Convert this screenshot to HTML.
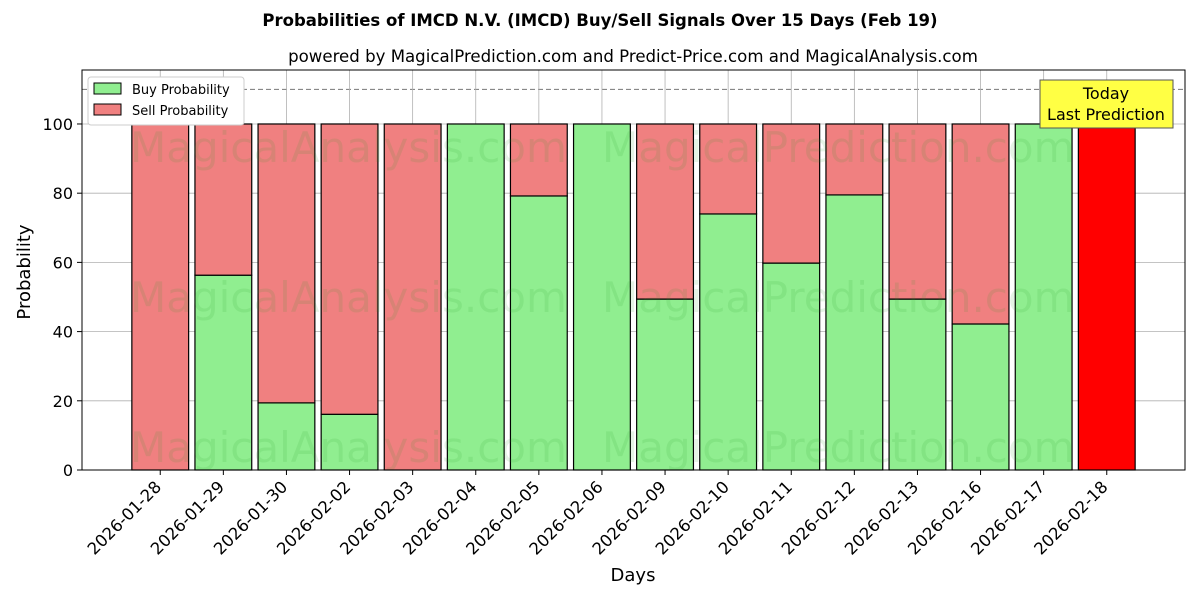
<!DOCTYPE html>
<html><head><meta charset="utf-8"><style>
body{margin:0;background:#fff;font-family:"Liberation Sans","DejaVu Sans",sans-serif}
</style></head><body>
<svg id="chart" width="1200" height="600" xmlns="http://www.w3.org/2000/svg" font-family="DejaVu Sans, Liberation Sans, sans-serif">
<text x="600" y="26" text-anchor="middle" font-size="16.5" font-weight="bold">Probabilities of IMCD N.V. (IMCD) Buy/Sell Signals Over 15 Days (Feb 19)</text>
<text x="633" y="62" text-anchor="middle" font-size="16.6">powered by MagicalPrediction.com and Predict-Price.com and MagicalAnalysis.com</text>
<g id="grid"></g>
<g id="bars"></g>
<g id="wm" fill="#2ca02c" fill-opacity="0.12" font-size="42">
<text x="130" y="162">MagicalAnalysis.com</text><text x="602" y="162">MagicalPrediction.com</text>
<text x="130" y="312">MagicalAnalysis.com</text><text x="602" y="312">MagicalPrediction.com</text>
<text x="130" y="462">MagicalAnalysis.com</text><text x="602" y="462">MagicalPrediction.com</text>
</g>
<g id="axes"></g>
<rect x="82" y="70" width="1103" height="400" fill="none" stroke="#000" stroke-width="1"/>
<g>
<rect x="88" y="77" width="156" height="48" fill="#fff" stroke="#ccc" rx="3"/>
<rect x="94" y="83" width="27" height="11" fill="lightgreen" stroke="#000"/>
<text x="132" y="94" font-size="13">Buy Probability</text>
<rect x="94" y="104" width="27" height="11" fill="lightcoral" stroke="#000"/>
<text x="132" y="115" font-size="13">Sell Probability</text>
</g>
<g>
<rect x="1040" y="80" width="133" height="48" fill="#ffff44" stroke="#555"/>
<text x="1106" y="99" text-anchor="middle" font-size="16">Today</text>
<text x="1106" y="120" text-anchor="middle" font-size="16">Last Prediction</text>
</g>
<text x="30" y="272" text-anchor="middle" font-size="18" transform="rotate(-90 30 272)">Probability</text>
<text x="633" y="581" text-anchor="middle" font-size="18">Days</text>
</svg>
<script>
const categories=["2026-01-28","2026-01-29","2026-01-30","2026-02-02","2026-02-03","2026-02-04","2026-02-05","2026-02-06","2026-02-09","2026-02-10","2026-02-11","2026-02-12","2026-02-13","2026-02-16","2026-02-17","2026-02-18"];
const buyValues=[0,56.3,19.4,16.1,0,100,79.2,100,49.4,74,59.8,79.5,49.4,42.2,100,0];
const sellValues=[100,43.7,80.6,83.9,100,0,20.8,0,50.6,26,40.2,20.5,50.6,57.8,0,100];
const yTicks=[0,20,40,60,80,100];
const NS="http://www.w3.org/2000/svg";
const L=82,R=1185,T=70,B=470,xmin=-1.24,xmax=16.24,ymax=115.6;
const xs=i=>L+(i-xmin)/(xmax-xmin)*(R-L);
const ys=v=>B-v/ymax*(B-T);
const bw=0.9*(R-L)/(xmax-xmin);
function mk(tag,attrs,parent){const e=document.createElementNS(NS,tag);for(const k in attrs)e.setAttribute(k,attrs[k]);parent.appendChild(e);return e;}
const grid=document.getElementById('grid'),bars=document.getElementById('bars'),axes=document.getElementById('axes');
yTicks.forEach(v=>{
 const g=mk('line',{x1:L,x2:R,y1:ys(v),y2:ys(v),stroke:'#b0b0b0','stroke-width':0.8},grid);
 
 
 mk('line',{x1:L-5,x2:L,y1:ys(v),y2:ys(v),stroke:'#000'},axes);
 const t=mk('text',{x:L-9,y:ys(v)+6,'text-anchor':'end','font-size':16},axes);t.textContent=v;
 
 
});
const dl=mk('line',{x1:L,x2:R,y1:ys(110),y2:ys(110),stroke:'#777','stroke-dasharray':'5,3'},grid);


categories.forEach((c,i)=>{
 const x=xs(i);
 const gl=mk('line',{x1:x,x2:x,y1:T,y2:B,stroke:'#b0b0b0','stroke-width':0.8},grid);
 
 
 const last=i===categories.length-1;
 if(buyValues[i]>0){
  const b=mk('rect',{x:x-bw/2,y:ys(buyValues[i]),width:bw,height:ys(0)-ys(buyValues[i]),fill:'lightgreen',stroke:'#000','stroke-width':1.2},bars);
  
  
 }
 if(sellValues[i]>0){
  const s=mk('rect',{x:x-bw/2,y:ys(buyValues[i]+sellValues[i]),width:bw,height:ys(buyValues[i])-ys(buyValues[i]+sellValues[i]),fill:last?'red':'lightcoral',stroke:'#000','stroke-width':1.2},bars);
  
  
 }
 mk('line',{x1:x,x2:x,y1:B,y2:B+5,stroke:'#000'},axes);
 const t=mk('text',{x:x+2,y:B+18,'text-anchor':'end','font-size':16.5,transform:`rotate(-45 ${x+2} ${B+18})`},axes);t.textContent=c;
 
 
});
</script>
</body></html>
